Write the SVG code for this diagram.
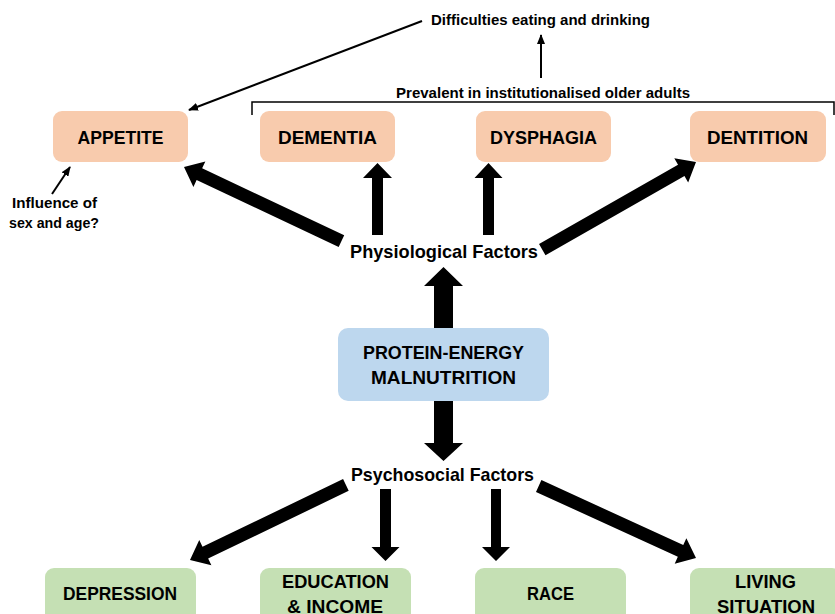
<svg xmlns="http://www.w3.org/2000/svg" width="835" height="614" viewBox="0 0 835 614">
<style>
text{font-family:"Liberation Sans",Arial,sans-serif;font-weight:bold;fill:#000;text-anchor:middle}
.big{font-size:19px}
.sm{font-size:15px}
.peach{fill:#F8CBAD}
.blue{fill:#BDD7EE}
.green{fill:#C5E0B4}
.thin{stroke:#000;stroke-width:2;fill:none}
.blk{fill:#000}
</style>
<defs>
<marker id="ah" markerWidth="10" markerHeight="8" refX="9" refY="4" orient="auto" markerUnits="userSpaceOnUse">
<path d="M0,0 L10,4 L0,8 Z" fill="#000"/>
</marker>
</defs>
<rect width="835" height="614" fill="#fff"/>
<g id="connectors">
<polygon class="blk" points="434,328 434,286 424,286 443.5,267 463,286 453,286 453,328"/>
<polygon class="blk" points="434,401 434,443 424,443 443.5,461 463,443 453,443 453,401"/>
<polygon class="blk" points="372,235 372,178 363,178 377.5,163 392,178 383,178 383,235"/>
<polygon class="blk" points="483,235 483,178 474.5,178 488.5,163 502.5,178 494,178 494,235"/>
<polygon class="blk" points="380,489 380,547 371.5,547 385.5,561 399.5,547 391,547 391,489"/>
<polygon class="blk" points="491,489 491,547 482,547 496,561 510,547 501,547 501,489"/>
<polygon class="blk" transform="translate(184,167) rotate(-154.8)" points="0,0 -17,-14 -17,-6.5 -174,-6.5 -174,6.5 -17,6.5 -17,14"/>
<polygon class="blk" transform="translate(696,162) rotate(-29.7)" points="0,0 -17,-14 -17,-6.5 -177,-6.5 -177,6.5 -17,6.5 -17,14"/>
<polygon class="blk" transform="translate(190,560) rotate(154.3)" points="0,0 -17,-14 -17,-6.5 -173,-6.5 -173,6.5 -17,6.5 -17,14"/>
<polygon class="blk" transform="translate(696,558) rotate(24.6)" points="0,0 -17,-14 -17,-6.5 -173,-6.5 -173,6.5 -17,6.5 -17,14"/>
<line class="thin" x1="422" y1="21" x2="189" y2="110" marker-end="url(#ah)"/>
<line class="thin" x1="541" y1="78" x2="541" y2="35" marker-end="url(#ah)"/>
<line class="thin" x1="52" y1="194" x2="70" y2="167" marker-end="url(#ah)"/>
<path class="thin" style="stroke-width:1.5" d="M252,115 V102 H834 V115"/>
</g>
<g id="appetite"><rect class="peach" x="53" y="111" width="135" height="51" rx="9"/><text class="big" x="120.5" y="144" textLength="86" lengthAdjust="spacingAndGlyphs">APPETITE</text></g>
<g id="dementia"><rect class="peach" x="260" y="111" width="135" height="51" rx="9"/><text class="big" x="327.5" y="144" textLength="99" lengthAdjust="spacingAndGlyphs">DEMENTIA</text></g>
<g id="dysphagia"><rect class="peach" x="476" y="111" width="135" height="51" rx="9"/><text class="big" x="543.5" y="144" textLength="107" lengthAdjust="spacingAndGlyphs">DYSPHAGIA</text></g>
<g id="dentition"><rect class="peach" x="690" y="111" width="136" height="51" rx="9"/><text class="big" x="757.5" y="144" textLength="101" lengthAdjust="spacingAndGlyphs">DENTITION</text></g>
<g id="pem"><rect class="blue" x="338" y="328" width="211" height="73" rx="10"/><text class="big" x="443.5" y="359" textLength="161" lengthAdjust="spacingAndGlyphs">PROTEIN-ENERGY</text><text class="big" x="443.5" y="384" textLength="145" lengthAdjust="spacingAndGlyphs">MALNUTRITION</text></g>
<g id="physiological"><text class="big" x="444" y="258" textLength="188" lengthAdjust="spacingAndGlyphs">Physiological Factors</text></g>
<g id="psychosocial"><text class="big" x="442.5" y="481" textLength="183" lengthAdjust="spacingAndGlyphs">Psychosocial Factors</text></g>
<g id="depression"><rect class="green" x="45" y="568" width="151" height="60" rx="9"/><text class="big" x="120" y="600" textLength="114" lengthAdjust="spacingAndGlyphs">DEPRESSION</text></g>
<g id="education"><rect class="green" x="260" y="568" width="151" height="60" rx="9"/><text class="big" x="335.5" y="588" textLength="107" lengthAdjust="spacingAndGlyphs">EDUCATION</text><text class="big" x="335" y="613" textLength="96" lengthAdjust="spacingAndGlyphs">&amp; INCOME</text></g>
<g id="race"><rect class="green" x="475" y="568" width="151" height="60" rx="9"/><text class="big" x="550.5" y="600" textLength="47" lengthAdjust="spacingAndGlyphs">RACE</text></g>
<g id="living"><rect class="green" x="690" y="568" width="151" height="60" rx="9"/><text class="big" x="765.5" y="588" textLength="61" lengthAdjust="spacingAndGlyphs">LIVING</text><text class="big" x="766" y="613" textLength="98" lengthAdjust="spacingAndGlyphs">SITUATION</text></g>
<g id="prevalent"><text class="sm" x="543" y="98" textLength="294" lengthAdjust="spacingAndGlyphs">Prevalent in institutionalised older adults</text></g>
<g id="difficulties"><text class="sm" x="540.5" y="25" textLength="219" lengthAdjust="spacingAndGlyphs">Difficulties eating and drinking</text></g>
<g id="influence"><text class="sm" x="54.5" y="208" textLength="85" lengthAdjust="spacingAndGlyphs">Influence of</text><text class="sm" x="54" y="228" textLength="90" lengthAdjust="spacingAndGlyphs">sex and age?</text></g>
</svg>
